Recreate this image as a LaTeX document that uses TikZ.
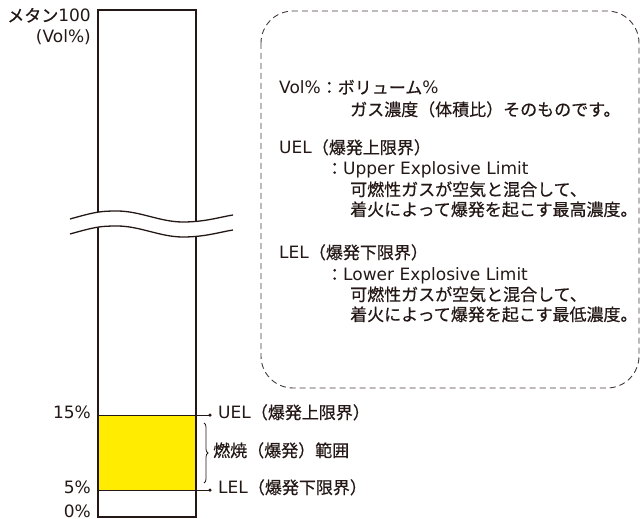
\documentclass[tikz,border=0pt]{standalone}
\usepackage{fontspec}
\setmainfont{Noto Sans CJK JP}[FakeBold=0.5]
\newfontfamily\latfnt{DejaVu Sans}
\newcommand\Lx[1]{{\latfnt #1}}
\usetikzlibrary{decorations.pathreplacing}
\definecolor{ink}{RGB}{35,24,21}
\definecolor{gasyellow}{RGB}{255,236,0}
\begin{document}
\begin{tikzpicture}[x=1pt,y=-1pt,
  lbl/.style={font=\fontsize{17}{20}\selectfont, text=ink, inner sep=0pt, text height=0.88em, text depth=0.12em},
  lw/.style={lbl, anchor=west},
  le/.style={lbl, anchor=east},
  bar/.style={draw=ink, line width=2pt},
  wave/.style={draw=ink, line width=1.3pt},
  limit/.style={draw=ink, line width=1pt},
  dot/.style={circle, fill=ink, inner sep=0pt, minimum size=3.5pt}]
\useasboundingbox (0,0) rectangle (641,519);

% yellow combustion range
\fill[gasyellow] (98,415) rectangle (196,490);

% bar outline
\draw[bar] (98,10) rectangle (196,517);

% break: white gap between waves
\fill[white] (70,219) .. controls (95,212) and (100,211) .. (117,211)
  .. controls (140,211) and (160,222) .. (183,222)
  .. controls (205,222) and (220,217) .. (233,215)
  -- (233,230)
  .. controls (220,232) and (205,237) .. (183,237)
  .. controls (160,237) and (140,226) .. (117,226)
  .. controls (100,226) and (95,227) .. (70,234) -- cycle;
\draw[wave] (70,219) .. controls (95,212) and (100,211) .. (117,211)
  .. controls (140,211) and (160,222) .. (183,222)
  .. controls (205,222) and (220,217) .. (233,215);
\draw[wave] (70,234) .. controls (95,227) and (100,226) .. (117,226)
  .. controls (140,226) and (160,237) .. (183,237)
  .. controls (205,237) and (220,232) .. (233,230);

% limit lines
\coordinate (uelL) at (98,415);
\coordinate (lelL) at (98,490);
\node[dot] (uelD) at (210,415) {};
\node[dot] (lelD) at (210,490) {};
\draw[limit] (uelL) -- (uelD.center);
\draw[limit] (lelL) -- (lelD.center);

% brace
\coordinate (brT) at (204,423);
\coordinate (brB) at (204,483);
\draw[draw=ink, line width=0.8pt, decorate, decoration={brace, amplitude=4pt}] (brT) -- (brB);

% left labels
\node[le] (top1) at (91,18) {メタン\Lx{100}};
\node[le] (top2) at (91,39) {\Lx{(Vol\%)}};
\node[le] (p15) at (91,415) {\Lx{15\%}};
\node[le] (p5) at (91,490) {\Lx{5\%}};
\node[le] (p0) at (91,514) {\Lx{0\%}};

% right labels
\node[lw] (uel) at (218,415) {\Lx{UEL}（爆発上限界）};
\node[lw] (rng) at (213,453) {燃焼（爆発）範囲};
\node[lw] (lel) at (218,490) {\Lx{LEL}（爆発下限界）};

% dashed note box
\draw[draw=ink!85, line width=0.9pt, dash pattern=on 6pt off 4pt, rounded corners=32pt]
  (261,11) rectangle (639,388);

\node[lw] (n1) at (279,90) {\Lx{Vol\%}：ボリューム\Lx{\%}};
\node[lw] (n2) at (350,112) {ガス濃度（体積比）そのものです。};
\node[lw] (n3) at (279,150) {\Lx{UEL}（爆発上限界）};
\node[lw] (n4) at (326,171) {：\Lx{Upper Explosive Limit}};
\node[lw] (n5) at (350,192) {可燃性ガスが空気と混合して、};
\node[lw] (n6) at (350,212) {着火によって爆発を起こす最高濃度。};
\node[lw] (n7) at (279,255) {\Lx{LEL}（爆発下限界）};
\node[lw] (n8) at (326,277) {：\Lx{Lower Explosive Limit}};
\node[lw] (n9) at (350,297) {可燃性ガスが空気と混合して、};
\node[lw] (n10) at (350,317) {着火によって爆発を起こす最低濃度。};
\end{tikzpicture}
\end{document}
